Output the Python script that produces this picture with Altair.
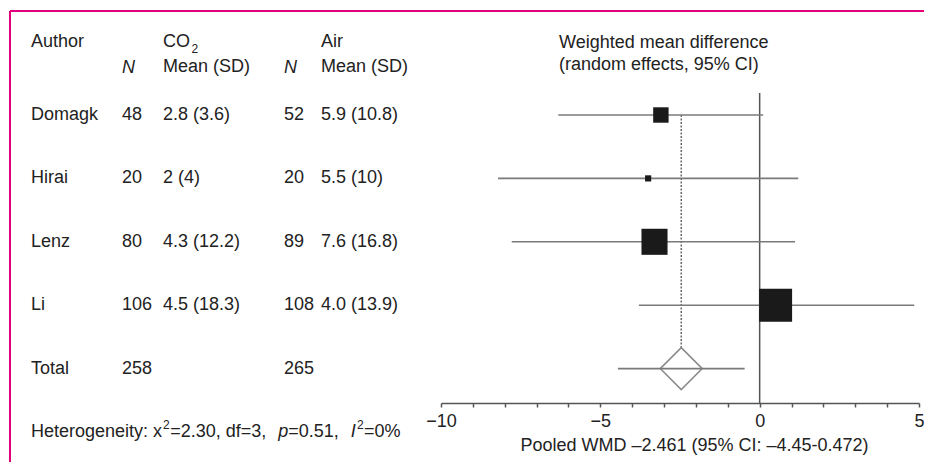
import altair as alt
import pandas as pd

# ---------------- data ----------------
authors = ["Domagk", "Hirai", "Lenz", "Li"]
n_co2 = [48, 20, 80, 106]
co2_mean_sd = ["2.8 (3.6)", "2 (4)", "4.3 (12.2)", "4.5 (18.3)"]
n_air = [52, 20, 89, 108]
air_mean_sd = ["5.9 (10.8)", "5.5 (10)", "7.6 (16.8)", "4.0 (13.9)"]
co2_mean = [2.8, 2.0, 4.3, 4.5]
air_mean = [5.9, 5.5, 7.6, 4.0]
ci_low = [-6.32, -8.21, -7.78, -3.79]
ci_high = [0.11, 1.21, 1.11, 4.85]
total_co2 = 258
total_air = 265
pooled_wmd = -2.461
pooled_low = -4.45
pooled_high = -0.472
axis_ticks = list(range(-10, 6))
axis_title = "Pooled WMD \u20132.461 (95% CI: \u20134.45-0.472)"
plot_title = ["Weighted mean difference", "(random effects, 95% CI)"]
# heterogeneity line: (text, style) segments; "sup" = superscript
het_segments = [
    ("Heterogeneity: x", "normal"), ("2", "sup"), ("=2.30, df=3, ", "normal"),
    ("p", "italic"), ("=0.51, ", "normal"), ("I", "italic"), ("2", "sup"), ("=0%", "normal"),
]

FONT = "Liberation Sans"
FS = 18
SUP = 12
TXT = "#222222"
GRAY = "#7a7a7a"
DARK = "#555555"
MAGENTA = "#E2007A"

# Arial / Liberation Sans advance widths (1/1000 em) for laying out the mixed-style line
ADV = {"H": 722, "e": 556, "t": 278, "r": 333, "o": 556, "g": 556, "n": 556, "i": 222, "y": 500,
       ":": 278, " ": 278, "x": 500, "=": 584, ".": 278, ",": 278, "d": 556, "f": 278, "p": 556,
       "I": 278, "%": 889}


def adv(s, size):
    return sum(ADV.get(c, 556) for c in s) * size / 1000.0


rows = list(range(1, len(authors) + 1))
studies = pd.DataFrame({
    "row": rows,
    "author": authors,
    "n_co2": n_co2,
    "co2": co2_mean_sd,
    "n_air": n_air,
    "air": air_mean_sd,
    "md": [a - b for a, b in zip(co2_mean, air_mean)],
    "lo": ci_low,
    "hi": ci_high,
    "n_total": [a + b for a, b in zip(n_co2, n_air)],
})
total_row = len(authors) + 1
het_row = len(authors) + 2

table = pd.concat([
    studies[["row", "author", "n_co2", "co2", "n_air", "air"]].astype({"n_co2": str, "n_air": str}),
    pd.DataFrame({"row": [total_row], "author": ["Total"], "n_co2": [str(total_co2)],
                  "co2": [""], "n_air": [str(total_air)], "air": [""]}),
], ignore_index=True)

pooled = pd.DataFrame({"row": [total_row], "first": [1], "md": [pooled_wmd],
                       "lo": [pooled_low], "hi": [pooled_high]})

W, H = 916, 395
xscale = alt.Scale(domain=[-10, 5], range=[433, 911], nice=False, zero=False)
yscale = alt.Scale(domain=[1, 5], range=[107, 360.6], nice=False, zero=False)

xaxis = alt.Axis(
    values=axis_ticks, format="d",
    labelExpr="datum.value % 5 == 0 ? datum.label : ''",
    grid=False, tickSize=4, tickWidth=1.5, domainWidth=1.5,
    domainColor=DARK, tickColor=DARK,
    labelFont=FONT, labelFontSize=FS, labelColor=TXT,
    labelBaseline="middle", labelPadding=14, labelFlush=False, labelOverlap=False,
    title=axis_title, titleFont=FONT, titleFontSize=FS, titleFontWeight="normal",
    titleColor=TXT, titleX=686, titleY=42, titleBaseline="middle", titleAlign="center",
)

one = pd.DataFrame({"k": [0]})
base = alt.Chart(studies)

# borders
border_top = alt.Chart(one).mark_rule(color=MAGENTA, strokeWidth=2).encode(
    x=alt.value(2), x2=alt.value(W), y=alt.value(3))
border_left = alt.Chart(one).mark_rule(color=MAGENTA, strokeWidth=2).encode(
    x=alt.value(2), y=alt.value(3), y2=alt.value(454))

zero_line = alt.Chart(pd.DataFrame({"x": [0]})).mark_rule(color=DARK, strokeWidth=1.5).encode(
    x=alt.X("x:Q", scale=xscale, axis=xaxis), y=alt.value(85), y2=alt.value(H))

dotted = alt.Chart(pooled).mark_rule(color="#6a6a6a", strokeWidth=1.5, strokeDash=[2, 1.5]).encode(
    x=alt.X("md:Q", scale=xscale),
    y=alt.Y("first:Q", scale=yscale, axis=None), y2="row:Q")

ci = base.mark_rule(color=GRAY, strokeWidth=1.6).encode(
    x=alt.X("lo:Q", scale=xscale), x2="hi:Q",
    y=alt.Y("row:Q", scale=yscale, axis=None))

squares = base.mark_square(color="#1a1a1a", opacity=1).encode(
    x=alt.X("md:Q", scale=xscale),
    y=alt.Y("row:Q", scale=yscale, axis=None),
    size=alt.Size("n_total:Q", scale=alt.Scale(type="pow", exponent=2, domain=[0, 214], range=[0, 1089]),
                  legend=None))

diamond = alt.Chart(pooled).mark_point(shape="diamond", filled=True, fill="white", stroke="#8a8a8a",
                                       strokeWidth=1.5, opacity=1, size=1764).encode(
    x=alt.X("md:Q", scale=xscale), y=alt.Y("row:Q", scale=yscale, axis=None))

pooled_ci = alt.Chart(pooled).mark_rule(color=GRAY, strokeWidth=1.6).encode(
    x=alt.X("lo:Q", scale=xscale), x2="hi:Q", y=alt.Y("row:Q", scale=yscale, axis=None))

# table text
col_x = {"author": 23, "n_co2": 114, "co2": 155, "n_air": 276, "air": 313}
text_layers = []
for col, px in col_x.items():
    text_layers.append(
        alt.Chart(table).mark_text(align="left", baseline="middle", font=FONT, fontSize=FS, color=TXT).encode(
            x=alt.value(px), y=alt.Y("row:Q", scale=yscale, axis=None), text=f"{col}:N"))


def label(txt, x, y, size=FS, style="normal"):
    return alt.Chart(pd.DataFrame({"t": [txt]})).mark_text(
        align="left", baseline="middle", font=FONT, fontSize=size, fontStyle=style, color=TXT).encode(
        x=alt.value(x), y=alt.value(y), text="t:N")


headers = [
    label("Author", 23, 34),
    label("CO", 155, 34),
    label("2", 183.5, 41, size=SUP),
    label("Air", 313, 34),
    label("N", 114, 60, style="italic"),
    label("Mean (SD)", 155, 59),
    label("N", 276, 60, style="italic"),
    label("Mean (SD)", 313, 59),
    label(plot_title[0], 551, 35),
    label(plot_title[1], 551, 57),
]

het_y = 107 + (het_row - 1) * 63.4
het = []
cx = 23.0
for txt, kind in het_segments:
    if kind == "sup":
        het.append(label(txt, cx + 1, het_y - 7, size=SUP))
        cx += adv(txt, SUP) + 1.5
    else:
        het.append(label(txt, cx, het_y, style=kind))
        cx += adv(txt, FS) + (7 if txt.endswith(" ") else 0)

chart = alt.layer(
    border_top, border_left, zero_line, dotted, ci, squares, diamond, pooled_ci,
    *text_layers, *headers, *het,
).properties(
    width=W, height=H,
    autosize=alt.AutoSizeParams(type="none"),
    padding={"left": 0, "top": 0, "right": 0, "bottom": 59},
).configure_view(stroke=None)

chart.save("out.html", embed_options={"renderer": "svg", "actions": False})
